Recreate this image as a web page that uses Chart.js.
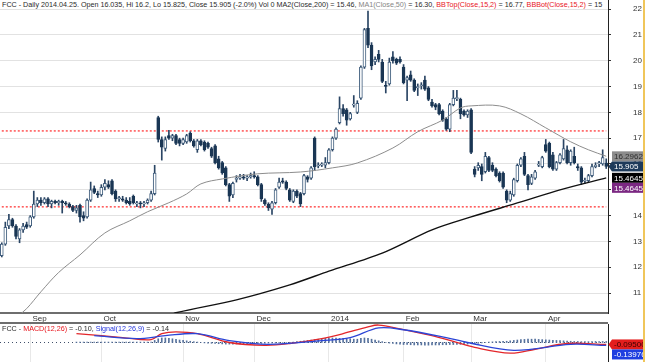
<!DOCTYPE html>
<html>
<head>
<meta charset="utf-8">
<script src="https://cdn.jsdelivr.net/npm/chart.js@4.4.1/dist/chart.umd.min.js"></script>
<style>
  body { margin: 0; background: #fff; }
  #wrap { position: relative; width: 645px; height: 362px; overflow: hidden; font-family: "Liberation Sans", Arial, sans-serif; }
  #main { position: absolute; left: 0; top: 0; }
  #macd { position: absolute; left: 0; top: 324px; }
  #sep { position: absolute; left: 0; top: 322px; width: 608px; height: 2px; background: #6e6e6e; }
  #titleClip { position: absolute; left: 0; top: 0; width: 607px; height: 9px; overflow: hidden; background: #fff; }
  .hdr { position: absolute; left: 2px; white-space: nowrap; font-size: 8px; line-height: 9px; color: #2a2a2a; transform-origin: 0 0; }
  #macdTitle { top: 324px; }
  .g { color: #858585; }
  .r { color: #e8141c; }
  .b { color: #2233dd; }
  #edge { position: absolute; left: 643px; top: 0; width: 2px; height: 362px; background: #f0c65a; }
</style>
</head>
<body>
<div id="wrap">
  <canvas id="main" width="645" height="323"></canvas>
  <div id="sep"></div>
  <canvas id="macd" width="645" height="38"></canvas>
  <div id="titleClip"><div id="title" class="hdr" style="top:0">FCC - Daily 2014.04.25. Open 16.035, Hi 16.2, Lo 15.825, Close 15.905 (-2.0%) Vol 0 MA2(Close,200) = 15.46, <span class="g">MA1(Close,50)</span> = 16.30, <span class="r">BBTop(Close,15,2)</span> = 16.77, <span class="r">BBBot(Close,15,2)</span> = 15</div></div>
  <div id="macdTitle" class="hdr">FCC - <span class="r">MACD(12,26)</span> = -0.10, <span class="b">Signal(12,26,9)</span> = -0.14</div>
  <div id="edge"></div>
</div>
<script>
// trading days shown on the chart
const tradingDays = [
  ['2013-08', [21,22,23,26,27,28,29,30]],
  ['2013-09', [3,4,5,6,9,10,11,12,13,16,17,18,19,20,23,24,25,26,27,30]],
  ['2013-10', [1,2,3,4,7,8,9,10,11,14,15,16,17,18,21,22,23,24,25,28,29,30,31]],
  ['2013-11', [1,4,5,6,7,8,11,12,13,14,15,18,19,20,21,22,25,26,27,29]],
  ['2013-12', [2,3,4,5,6,9,10,11,12,13,16,17,18,19,20,23,24,26,27,30,31]],
  ['2014-01', [2,3,6,7,8,9,10,13,14,15,16,17,21,22,23,24,27,28,29,30,31]],
  ['2014-02', [3,4,5,6,7,10,11,12,13,14,18,19,20,21,24,25,26,27,28]],
  ['2014-03', [3,4,5,6,7,10,11,12,13,14,17,18,19,20,21,24,25,26,27,28,31]],
  ['2014-04', [1,2,3,4,7,8,9,10,11,14,15,16,17,21,22,23,24,25]]
];
const monthNames = ['Jan','Feb','Mar','Apr','May','Jun','Jul','Aug','Sep','Oct','Nov','Dec'];

const open = [
  12.45,12.9,13.6,13.85,13.6,13.1,13.45,13.65,13.6,13.95,
  14.45,14.6,14.5,14.65,14.45,14.55,14.5,14.55,14.5,14.45,
  14.35,14.2,14.4,14.0,13.95,14.6,15.05,14.85,14.8,15.1,
  15.2,15.35,14.95,14.65,14.65,14.6,14.55,14.75,14.45,14.5,
  14.45,14.5,14.6,14.85,17.8,16.95,16.6,17.1,17.0,17.1,
  16.95,16.8,16.85,17.2,16.9,16.55,16.9,16.85,16.8,16.6,
  16.7,16.2,16.05,15.85,15.2,14.8,15.4,15.45,15.5,15.45,
  15.5,15.55,15.5,15.2,14.6,14.45,14.25,14.5,15.1,15.35,
  15.3,15.0,14.55,14.95,14.85,14.85,15.5,15.45,17.0,15.95,
  15.95,15.95,16.05,16.55,17.0,17.6,18.15,18.1,17.75,18.3,
  18.0,18.55,19.75,21.25,20.6,19.95,20.25,19.95,19.05,19.1,
  20.15,20.05,20.05,19.75,19.25,19.45,19.25,18.95,19.05,19.25,
  18.95,18.4,18.3,18.3,18.05,17.75,17.35,18.3,18.55,18.5,
  18.05,17.9,18.1,15.8,15.85,15.9,15.7,16.25,15.95,15.8,
  15.65,15.65,14.95,14.6,14.8,15.35,15.95,16.3,15.55,15.25,
  15.45,15.95,15.9,16.75,16.8,16.35,15.8,16.05,16.2,16.55,
  16.05,16.3,15.9,15.85,15.35,15.35,15.55,15.9,16.0,16.0,16.035
];
const high = [
  12.95,13.75,14.05,13.9,13.65,13.5,13.7,13.75,14.0,14.95,
  14.7,14.7,14.7,14.7,14.6,14.6,14.6,14.6,14.55,14.5,
  14.4,14.4,14.45,14.15,14.65,15.3,15.15,14.95,15.2,15.4,
  15.35,15.4,15.0,14.75,14.75,14.7,14.7,14.8,14.55,14.55,
  14.55,14.65,14.95,15.95,17.85,17.05,17.05,17.3,17.15,17.15,
  17.0,17.0,17.15,17.25,16.95,16.95,16.95,16.9,16.85,16.65,
  16.75,16.3,16.1,15.9,15.25,15.3,15.55,15.6,15.6,15.55,
  15.65,15.7,15.55,15.25,14.65,14.5,14.55,15.05,15.45,15.45,
  15.35,15.05,15.0,15.0,14.9,15.6,15.55,15.9,17.05,16.05,
  16.05,16.25,16.6,17.05,17.4,18.6,18.3,18.15,18.0,18.65,
  18.45,19.8,21.25,21.92,20.7,20.15,20.4,20.05,19.2,20.1,
  20.35,20.1,20.15,19.85,19.4,19.6,19.3,19.1,19.15,19.4,
  19.0,18.5,18.35,18.35,18.1,17.8,18.35,18.85,18.85,18.55,
  18.1,18.1,18.15,15.9,16.05,16.0,16.45,16.3,16.05,15.85,
  15.7,15.7,15.0,14.95,15.45,16.0,16.25,16.45,15.6,15.6,
  15.75,16.1,16.3,16.95,16.85,16.45,16.1,16.4,16.95,16.7,
  16.55,16.65,16.0,15.9,15.45,15.6,16.0,16.05,16.1,16.55,16.2
];
const low = [
  12.4,12.85,13.5,13.55,13.1,12.95,13.35,13.5,13.55,13.9,
  14.35,14.4,14.45,14.35,14.3,14.45,14.4,14.1,14.4,14.3,
  14.15,14.1,13.75,13.8,13.9,14.55,14.85,14.7,14.75,15.0,
  15.05,14.8,14.55,14.55,14.55,14.45,14.4,14.45,14.35,14.3,
  14.35,14.45,14.55,14.8,16.85,16.15,16.5,16.95,16.9,16.75,
  16.7,16.75,16.8,16.85,16.65,16.45,16.7,16.5,16.6,16.25,
  16.0,15.8,15.6,15.15,14.55,14.7,15.3,15.4,15.4,15.35,
  15.45,15.45,15.15,14.55,14.4,14.2,14.05,14.45,15.05,15.25,
  15.0,14.55,14.5,14.7,14.35,14.8,15.3,15.4,15.75,15.85,
  15.9,15.85,16.0,16.5,16.95,17.55,17.85,17.5,17.7,18.2,
  17.95,18.5,19.7,20.5,19.65,19.85,19.95,19.15,18.75,19.05,
  19.9,19.85,19.9,19.1,18.45,19.2,18.8,18.65,18.9,18.85,
  18.45,18.2,18.1,17.9,17.65,17.3,17.25,18.25,18.45,17.75,
  17.85,17.8,16.4,15.5,15.75,15.35,15.65,15.7,15.7,15.5,
  15.3,15.05,14.5,14.55,14.75,15.3,15.9,15.55,15.0,15.2,
  15.4,15.9,15.85,16.45,15.85,15.75,15.75,16.0,16.15,16.0,
  15.95,16.0,15.75,15.2,15.25,15.3,15.5,15.85,15.9,15.95,15.825
];
const close = [
  12.9,13.55,13.85,13.6,13.2,13.45,13.6,13.55,13.95,14.45,
  14.6,14.5,14.65,14.45,14.55,14.5,14.55,14.5,14.45,14.35,
  14.2,14.3,13.95,13.9,14.6,15.0,14.9,14.8,15.1,15.25,
  15.1,14.85,14.65,14.7,14.6,14.5,14.45,14.5,14.5,14.45,
  14.5,14.6,14.85,15.65,16.95,16.65,16.95,17.0,17.1,16.8,
  16.8,16.95,17.1,16.9,16.7,16.9,16.75,16.55,16.65,16.3,
  16.05,15.85,15.65,15.2,14.75,15.25,15.45,15.5,15.45,15.5,
  15.55,15.5,15.2,14.65,14.45,14.3,14.5,15.0,15.3,15.3,
  15.05,14.6,14.95,14.75,14.45,15.55,15.4,15.85,15.9,15.95,
  16.0,16.05,16.55,17.0,17.35,18.15,17.95,17.7,17.95,18.3,
  18.35,19.75,21.2,20.6,19.8,20.05,20.05,19.2,19.0,19.95,
  20.0,19.9,19.95,19.15,19.35,19.25,18.85,19.0,19.05,18.9,
  18.5,18.25,18.2,17.95,17.7,17.35,18.3,18.55,18.55,17.95,
  17.9,18.05,16.45,15.6,15.95,15.6,16.3,15.75,15.75,15.55,
  15.35,15.1,14.6,14.85,15.4,15.95,16.2,15.6,15.2,15.5,
  15.7,16.0,16.25,16.5,15.9,15.8,16.05,16.35,16.6,16.05,
  16.5,16.05,15.85,15.3,15.35,15.55,15.9,15.95,16.05,16.25,15.905
];

// moving averages [date, value]
const ma50 = [
  ['2013-08-27',10.05],['2013-08-30',10.4],['2013-09-06',11.05],['2013-09-13',11.8],
  ['2013-09-23',12.48],['2013-10-02',13.33],['2013-10-11',13.8],['2013-10-18',14.15],
  ['2013-10-28',14.5],['2013-11-04',14.84],['2013-11-08',15.23],['2013-11-18',15.42],
  ['2013-12-03',15.62],['2013-12-19',15.69],['2014-01-03',15.85],['2014-01-14',16.04],
  ['2014-01-29',16.62],['2014-02-07',17.25],['2014-02-19',17.7],['2014-02-26',18.17],
  ['2014-03-03',18.25],['2014-03-13',18.25],['2014-03-21',17.94],['2014-04-01',17.4],
  ['2014-04-10',16.86],['2014-04-17',16.55],['2014-04-25',16.30]
];
const ma200 = [
  ['2013-10-28',10.1],['2013-10-30',10.24],['2013-11-22',10.74],['2013-12-16',11.32],
  ['2014-01-02',11.85],['2014-01-24',12.55],['2014-02-13',13.45],['2014-03-03',13.95],
  ['2014-03-21',14.53],['2014-04-07',15.0],['2014-04-25',15.46]
];
const levels = [17.28, 14.34];
const priceTags = [16.2962, 15.905, 15.4645, 15.4645];
const priceTagColors = [['#8c8c8c','#2e2e2e',false],['#1d3a5a','#fff',true],['#000','#fff',false],['#7b2882','#fff',false]];

// MACD panel
const macdLine = [
  ['2013-09-20',0.43],['2013-10-01',0.33],['2013-10-09',0.24],['2013-10-21',0.14],
  ['2013-10-24',0.43],['2013-10-30',0.52],['2013-11-07',0.43],['2013-11-20',0.0],
  ['2013-12-05',-0.14],['2013-12-16',-0.05],['2013-12-30',0.19],['2014-01-08',0.43],
  ['2014-01-17',0.76],['2014-01-23',0.85],['2014-01-31',0.66],['2014-02-13',0.33],
  ['2014-02-24',0.05],['2014-03-04',-0.24],['2014-03-18',-0.52],['2014-03-27',-0.33],
  ['2014-04-09',-0.05],['2014-04-25',-0.095]
];
const signalLine = [
  ['2013-09-27',0.33],['2013-10-15',0.19],['2013-10-25',0.33],['2013-11-07',0.43],
  ['2013-11-20',0.09],['2013-12-06',-0.09],['2013-12-30',0.09],['2014-01-10',0.24],
  ['2014-01-23',0.71],['2014-02-03',0.62],['2014-02-20',0.24],['2014-02-28',0.0],
  ['2014-03-19',-0.38],['2014-04-10',-0.09],['2014-04-25',-0.14]
];
const hist = [
  null,null,null,null,null,null,null,null,null,null,null,null,null,null,null,null,null,null,null,null,null,
  0.02,0.02,0.02,0.02,0.02,0.02,0.02,0.02,0.02,0.02,0.02,0.02,0.02,0.02,0.02,0.02,0.02,0.02,0.02,0.02,0.02,0.02,
  0.1,0.18,0.22,0.22,0.2,0.18,0.15,0.12,0.1,0.08,0.06,
  0.04,0.02,0,-0.02,-0.03,-0.04,-0.05,-0.06,-0.07,-0.08,
  -0.08,-0.08,-0.07,-0.07,-0.06,-0.06,-0.05,-0.05,-0.04,-0.04,-0.03,-0.03,-0.02,-0.02,-0.01,0,0,0.01,0.02,
  0.04,0.06,0.08,0.1,0.12,0.14,0.16,0.18,0.2,0.22,0.22,0.22,0.2,0.2,0.18,0.18,0.16,0.16,0.2,0.22,0.2,0.16,0.12,
  0.08,0.04,0,-0.03,-0.05,-0.07,-0.08,
  -0.1,-0.1,-0.11,-0.12,-0.12,-0.12,-0.13,-0.13,-0.12,-0.12,-0.12,-0.11,-0.11,-0.1,-0.1,-0.09,-0.09,-0.08,-0.08,
  -0.06,-0.05,-0.04,-0.02,0,0.02,0.03,0.04,0.05,0.06,0.06,
  0.08,0.1,0.12,0.14,0.15,0.16,0.16,0.16,0.15,0.14,0.13,0.12,0.11,0.1,0.09,0.08,0.07,0.06,
  0.05,0.05,0.04,0.04,0.04,0.05,0.05,0.05,0.05,0.05
];
const macdTags = [-0.095003, -0.139763];
const macdTagColors = [['#e41e1e','#3a0000',true],['#1f3fe0','#fff',false]];

const FONT = '"Liberation Sans", Arial, sans-serif';
const labels = [];
tradingDays.forEach(([m, days]) => days.forEach(d => labels.push(m + '-' + String(d).padStart(2, '0'))));

function monthStart(i) {
  return i > 0 && labels[i] && labels[i].slice(0, 7) !== labels[i - 1].slice(0, 7);
}
function monthLabel(i) {
  if (!monthStart(i)) return null;
  const mon = +labels[i].slice(5, 7);
  return ' ' + (mon === 1 ? labels[i].slice(0, 4) : monthNames[mon - 1]);
}
const pts = arr => arr.map(([d, v]) => ({ x: d, y: v }));

const NAVY = '#1a3654';
const bodies = labels.map((_, i) => {
  let a = Math.min(open[i], close[i]), b = Math.max(open[i], close[i]);
  if (b - a < 0.04) { const m = (a + b) / 2; a = m - 0.02; b = m + 0.02; }
  return [a, b];
});

function drawTags(chart, values, colors) {
  const { ctx, chartArea, scales: { y } } = chart;
  ctx.save();
  ctx.font = '8px ' + FONT;
  ctx.textBaseline = 'middle';
  let prev = -1e9;
  values.forEach((v, i) => {
    const [bg, fg, arrow] = colors[i];
    let py = y.getPixelForValue(v);
    if (py < prev + 10) py = prev + 10;
    prev = py;
    const x0 = chartArea.right + 4, h = 10;
    ctx.fillStyle = bg;
    ctx.fillRect(x0, py - h / 2, 643 - x0, h);
    if (arrow) {
      ctx.beginPath();
      ctx.moveTo(chartArea.right + 0.5, py);
      ctx.lineTo(x0, py - h / 2);
      ctx.lineTo(x0, py + h / 2);
      ctx.closePath();
      ctx.fill();
    }
    ctx.fillStyle = fg;
    ctx.fillText(String(v), x0 + 2, py + 0.5);
  });
  ctx.restore();
}

const tagsPlugin = {
  id: 'priceTagsPlugin',
  afterDraw(chart) { drawTags(chart, priceTags, priceTagColors); }
};

const zeroLine = {
  id: 'zeroLine',
  beforeDatasetsDraw(chart) {
    const { ctx, chartArea, scales: { y } } = chart;
    const py = Math.round(y.getPixelForValue(0)) + 0.5;
    ctx.save();
    ctx.strokeStyle = '#40506a';
    ctx.lineWidth = 1;
    ctx.setLineDash([1, 3]);
    ctx.beginPath(); ctx.moveTo(chartArea.left, py); ctx.lineTo(chartArea.right, py); ctx.stroke();
    ctx.restore();
  },
  afterDraw(chart) { drawTags(chart, macdTags, macdTagColors); }
};

const common = {
  responsive: false,
  animation: false,
  events: [],
  layout: { padding: 0 },
  plugins: { legend: { display: false }, tooltip: { enabled: false } }
};

// horizontal dotted red levels as line datasets spanning the whole range
const levelSets = levels.map(v => ({
  type: 'line',
  data: [{ x: labels[0], y: v }, { x: labels[labels.length - 1], y: v }],
  borderColor: 'rgb(255,40,40)', borderWidth: 1.2, borderDash: [2, 2],
  pointRadius: 0, order: 5
}));

new Chart(document.getElementById('main'), {
  type: 'bar',
  data: {
    labels: labels,
    datasets: [
      { type: 'line', data: pts(ma200), borderColor: '#111', borderWidth: 1.4, pointRadius: 0, tension: 0.3, order: 0 },
      { type: 'line', data: pts(ma50), borderColor: '#8d8d8d', borderWidth: 1, pointRadius: 0, tension: 0.35, order: 1 },
      { data: bodies, grouped: false, barThickness: 3, borderWidth: 1, borderSkipped: false,
        borderColor: labels.map((_, i) => close[i] >= open[i] ? '#3f5d7d' : NAVY),
        backgroundColor: labels.map((_, i) => close[i] >= open[i] ? '#ffffff' : NAVY), order: 2 },
      { data: labels.map((_, i) => [low[i], high[i]]), grouped: false, barThickness: 1,
        backgroundColor: '#2a4564', order: 3 },
      ...levelSets
    ]
  },
  options: Object.assign({}, common, {
    scales: {
      x: {
        type: 'category', offset: true,
        grid: {
          offset: false, drawTicks: true, tickLength: 4,
          color: c => monthStart(c.index) ? '#dcdcdc' : 'rgba(0,0,0,0)',
          tickColor: c => monthStart(c.index) ? '#444' : 'rgba(0,0,0,0)'
        },
        border: { color: '#6e6e6e', width: 2 },
        ticks: {
          autoSkip: false, maxRotation: 0, minRotation: 0, align: 'start', padding: -3, color: '#333',
          font: c => ({ size: 8, family: FONT, weight: (monthStart(c.index) && labels[c.index].slice(5, 7) === '01') ? 'bold' : 'normal' }),
          callback: (v, i) => monthLabel(i)
        },
        afterFit: s => { s.height = 10; s.paddingLeft = 0; s.paddingRight = 0; }
      },
      y: {
        position: 'right', min: 10.23, max: 22.35,
        ticks: { stepSize: 1, includeBounds: false, padding: 22, color: '#333', font: { size: 8, family: FONT } },
        grid: { color: '#e2e2e2', tickColor: '#333', tickLength: 3 },
        border: { color: '#222', width: 1 },
        afterFit: s => { s.width = 37; s.paddingTop = 0; s.paddingBottom = 0; }
      }
    }
  }),
  plugins: [tagsPlugin]
});

new Chart(document.getElementById('macd'), {
  type: 'bar',
  data: {
    labels: labels,
    datasets: [
      { type: 'line', data: pts(signalLine), borderColor: '#2b45d6', borderWidth: 1.3, pointRadius: 0, tension: 0.35, order: 0 },
      { type: 'line', data: pts(macdLine), borderColor: '#e3262a', borderWidth: 1.3, pointRadius: 0, tension: 0.35, order: 1 },
      { data: hist, barThickness: 1, backgroundColor: '#56729e', order: 2 }
    ]
  },
  options: Object.assign({}, common, {
    scales: {
      x: {
        type: 'category', offset: true,
        grid: { offset: false, drawTicks: false, color: c => monthStart(c.index) ? '#e8e8e8' : 'rgba(0,0,0,0)' },
        border: { display: false },
        ticks: { display: false, autoSkip: false },
        afterFit: s => { s.height = 0; s.paddingLeft = 0; s.paddingRight = 0; }
      },
      y: {
        position: 'right', min: -0.95, max: 0.9,
        grid: { display: false }, ticks: { display: false },
        border: { color: '#222', width: 1 },
        afterFit: s => { s.width = 37; s.paddingTop = 0; s.paddingBottom = 0; }
      }
    }
  }),
  plugins: [zeroLine]
});

// squeeze the header texts to the narrow lettering of the original
function fitText(id, right) {
  const el = document.getElementById(id);
  const w = el.getBoundingClientRect().width;
  el.style.transform = 'scaleX(' + ((right - 2) / w).toFixed(3) + ')';
}
fitText('title', 602);
fitText('macdTitle', 169);
</script>
</body>
</html>
